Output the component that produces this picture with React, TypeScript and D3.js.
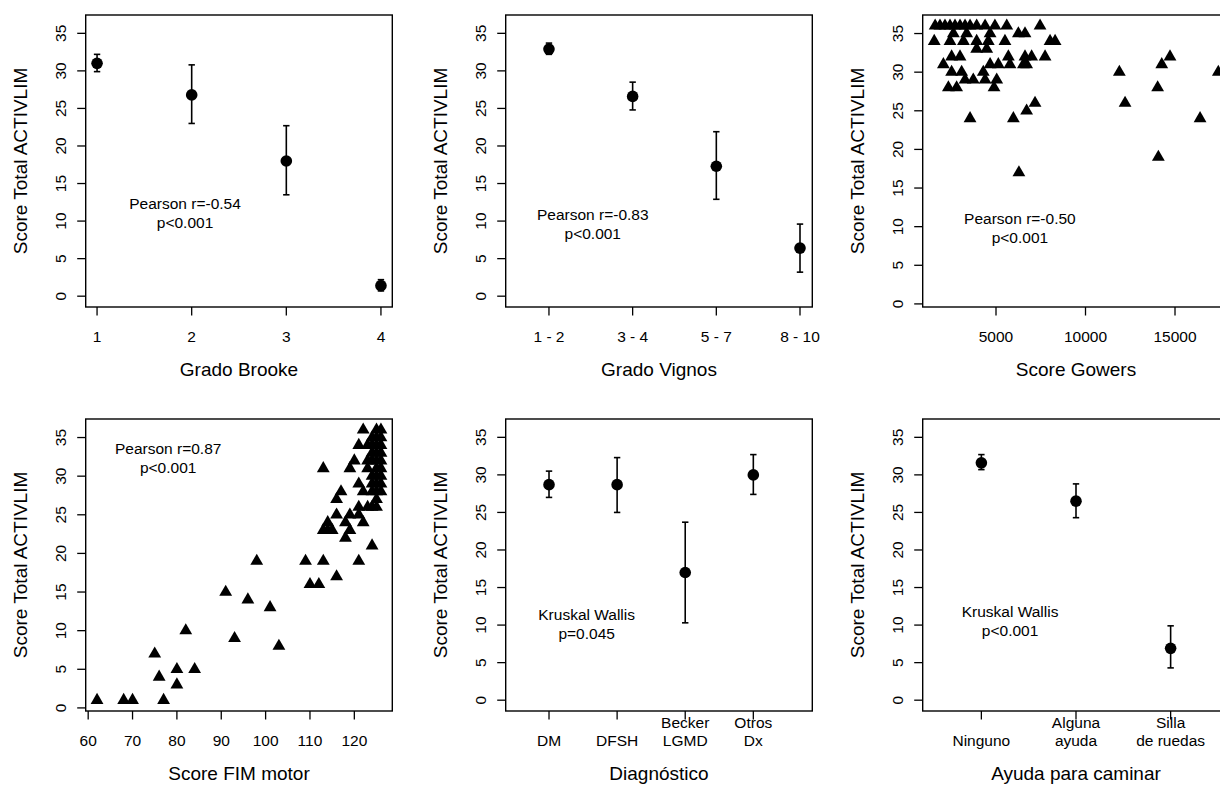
import React from "react";
import * as d3 from "d3";

// ---------- data ----------
const yTickValues = [0, 5, 10, 15, 20, 25, 30, 35];

const brookeLabels = ["1", "2", "3", "4"];
const brookeMean = [31.0, 26.8, 18.0, 1.4];
const brookeLow = [29.9, 23.0, 13.5, 0.7];
const brookeHigh = [32.2, 30.8, 22.7, 2.2];

const vignosLabels = ["1 - 2", "3 - 4", "5 - 7", "8 - 10"];
const vignosMean = [32.9, 26.6, 17.3, 6.4];
const vignosLow = [32.2, 24.8, 12.9, 3.2];
const vignosHigh = [33.7, 28.5, 21.9, 9.6];

const diagLabels = ["DM", "DFSH", "Becker\nLGMD", "Otros\nDx"];
const diagMean = [28.7, 28.7, 17.0, 30.0];
const diagLow = [27.0, 25.0, 10.3, 27.4];
const diagHigh = [30.5, 32.3, 23.7, 32.7];

const ayudaLabels = ["Ninguno", "Alguna\nayuda", "Silla\nde ruedas"];
const ayudaMean = [31.6, 26.5, 6.9];
const ayudaLow = [30.7, 24.3, 4.3];
const ayudaHigh = [32.7, 28.8, 9.9];

const gowersTicks = [5000, 10000, 15000];
const gowersX = [
  1600, 1870, 2150, 2430, 2710, 2990, 3270, 3550, 3920, 4390, 4940, 5600, 7460,
  2620, 3360, 4670, 6250, 6620,
  1550, 2430, 3180, 3920, 4570, 5500, 8020, 8300,
  3920, 4480,
  2520, 2990, 5690, 6620, 6990, 7740,
  2060, 4670, 5130, 5780, 6530, 6710,
  2520, 3080, 4290,
  3270, 3730, 4390, 5040,
  2340, 2800, 4890,
  3550, 5970, 6710, 7180, 6280,
  11890, 12210, 14030, 14260, 14720, 14070, 16400, 17420,
];
const gowersY = [
  36, 36, 36, 36, 36, 36, 36, 36, 36, 36, 36, 36, 36,
  35, 35, 35, 35, 35,
  34, 34, 34, 34, 34, 34, 34, 34,
  33, 33,
  32, 32, 32, 32, 32, 32,
  31, 31, 31, 31, 31, 31,
  30, 30, 30,
  29, 29, 29, 29,
  28, 28, 28,
  24, 24, 25, 26, 17,
  30, 26, 28, 31, 32, 19, 24, 30,
];

const fimTicks = [60, 70, 80, 90, 100, 110, 120];
const fimX = [
  62, 68, 70, 77, 75, 76, 80, 80, 84, 82,
  91, 93, 96, 98, 101, 103,
  109, 110, 112, 113, 113, 113, 115, 116, 116, 117, 116, 118, 119, 119,
  121, 122, 118, 121, 124, 122, 121, 120, 119, 121, 122, 121, 123, 124,
  125, 123, 123, 123, 124, 114, 114,
  125, 125, 125, 125, 125, 125, 125, 125, 125, 125,
  126, 126, 126, 126, 126, 126, 126, 126, 126,
  124, 124, 124, 124, 124, 124,
];
const fimY = [
  1, 1, 1, 1, 7, 4, 5, 3, 5, 10,
  15, 9, 14, 19, 13, 8,
  19, 16, 16, 19, 31, 23, 23, 17, 27, 28, 25, 22, 23, 25,
  25, 24, 24, 19, 21, 36, 34, 32, 31, 29, 28, 26, 26, 26,
  26, 32, 34, 31, 32, 24, 23,
  27, 28, 29, 30, 31, 32, 33, 34, 35, 36,
  28, 29, 30, 31, 32, 33, 34, 35, 36,
  28, 29, 30, 33, 34, 35,
];

// ---------- layout ----------
const COLS = [85.7, 505.7, 922.7];
const ROWS = [15, 419];
const PW = 306.6;
const PH = 292;
const FONT = "'Liberation Sans', Arial, Helvetica, sans-serif";
const TICK_FS = 15.5;
const TITLE_FS = 19;
const YTITLE = "Score Total ACTIVLIM";

type Cfg = {
  col: number;
  row: number;
  kind: "mean" | "scatter";
  xDomain: [number, number];
  yDomain: [number, number];
  xTicks: number[];
  xLabels: string[];
  xTitle: string;
  note: string[];
  noteAt: [number, number];
  mean?: number[];
  low?: number[];
  high?: number[];
  px?: number[];
  py?: number[];
};

const panels: Cfg[] = [
  {
    col: 0, row: 0, kind: "mean", xDomain: [0.88, 4.12], yDomain: [-1.44, 37.44],
    xTicks: [1, 2, 3, 4], xLabels: brookeLabels, xTitle: "Grado Brooke",
    note: ["Pearson r=-0.54", "p<0.001"], noteAt: [0.324, 0.68],
    mean: brookeMean, low: brookeLow, high: brookeHigh,
  },
  {
    col: 1, row: 0, kind: "mean", xDomain: [0.483, 4.147], yDomain: [-1.44, 37.44],
    xTicks: [1, 2, 3, 4], xLabels: vignosLabels, xTitle: "Grado Vignos",
    note: ["Pearson r=-0.83", "p<0.001"], noteAt: [0.284, 0.715],
    mean: vignosMean, low: vignosLow, high: vignosHigh,
  },
  {
    col: 2, row: 0, kind: "scatter", xDomain: [905, 18033], yDomain: [-0.4, 37.4],
    xTicks: gowersTicks, xLabels: gowersTicks.map(String), xTitle: "Score Gowers",
    note: ["Pearson r=-0.50", "p<0.001"], noteAt: [0.317, 0.728],
    px: gowersX, py: gowersY,
  },
  {
    col: 0, row: 1, kind: "scatter", xDomain: [59.44, 128.56], yDomain: [-0.4, 37.4],
    xTicks: fimTicks, xLabels: fimTicks.map(String), xTitle: "Score FIM motor",
    note: ["Pearson r=0.87", "p<0.001"], noteAt: [0.269, 0.135],
    px: fimX, py: fimY,
  },
  {
    col: 1, row: 1, kind: "mean", xDomain: [0.364, 4.866], yDomain: [-1.44, 37.44],
    xTicks: [1, 2, 3, 4], xLabels: diagLabels, xTitle: "Diagnóstico",
    note: ["Kruskal Wallis", "p=0.045"], noteAt: [0.264, 0.704],
    mean: diagMean, low: diagLow, high: diagHigh,
  },
  {
    col: 2, row: 1, kind: "mean", xDomain: [0.38, 3.62], yDomain: [-1.44, 37.44],
    xTicks: [1, 2, 3], xLabels: ayudaLabels, xTitle: "Ayuda para caminar",
    note: ["Kruskal Wallis", "p<0.001"], noteAt: [0.285, 0.691],
    mean: ayudaMean, low: ayudaLow, high: ayudaHigh,
  },
];

const TRI_R = 7.4;
const triPath = (() => {
  const p = d3.path();
  p.moveTo(0, -TRI_R);
  p.lineTo(TRI_R * 0.866, TRI_R * 0.5);
  p.lineTo(-TRI_R * 0.866, TRI_R * 0.5);
  p.closePath();
  return p.toString();
})();

function Panel({ cfg }: { cfg: Cfg }) {
  const left = COLS[cfg.col];
  const top = ROWS[cfg.row];
  const bottom = top + PH;
  const x = d3.scaleLinear().domain(cfg.xDomain).range([left, left + PW]);
  const y = d3.scaleLinear().domain(cfg.yDomain).range([bottom, top]);
  const cx = left + PW / 2;
  const cy = top + PH / 2;
  const noteX = left + cfg.noteAt[0] * PW;
  const noteY = top + cfg.noteAt[1] * PH;
  const lh = 19;

  return (
    <g>
      <rect x={left} y={top} width={PW} height={PH} fill="none" stroke="#000" strokeWidth={1.4} />

      {yTickValues.map((t) => (
        <g key={"y" + t}>
          <line x1={left - 8.5} x2={left} y1={y(t)} y2={y(t)} stroke="#000" strokeWidth={1.3} />
          <text
            transform={`translate(${left - 25.5},${y(t)}) rotate(-90)`}
            textAnchor="middle"
            dy="0.35em"
            fontSize={TICK_FS}
            fontFamily={FONT}
          >
            {t}
          </text>
        </g>
      ))}
      <text
        transform={`translate(${left - 65.7},${cy}) rotate(-90)`}
        textAnchor="middle"
        dy="0.35em"
        fontSize={TITLE_FS}
        fontFamily={FONT}
      >
        {YTITLE}
      </text>

      {cfg.xTicks.map((t, i) => {
        const lines = cfg.xLabels[i].split("\n");
        return (
          <g key={"x" + t}>
            <line x1={x(t)} x2={x(t)} y1={bottom} y2={bottom + 8.5} stroke="#000" strokeWidth={1.3} />
            {lines.map((ln, j) => (
              <text
                key={j}
                x={x(t)}
                y={bottom + 29.5 - (lines.length - 1 - j) * 18.3}
                textAnchor="middle"
                dy="0.35em"
                fontSize={TICK_FS}
                fontFamily={FONT}
              >
                {ln}
              </text>
            ))}
          </g>
        );
      })}
      <text x={cx} y={bottom + 62.5} textAnchor="middle" dy="0.35em" fontSize={TITLE_FS} fontFamily={FONT}>
        {cfg.xTitle}
      </text>

      {cfg.note.map((ln, j) => (
        <text
          key={"n" + j}
          x={noteX}
          y={noteY + (j - (cfg.note.length - 1) / 2) * lh}
          textAnchor="middle"
          dy="0.35em"
          fontSize={TICK_FS}
          fontFamily={FONT}
        >
          {ln}
        </text>
      ))}

      {cfg.kind === "mean" &&
        cfg.mean!.map((m, i) => {
          const xi = x(i + 1);
          return (
            <g key={"m" + i}>
              <line x1={xi} x2={xi} y1={y(cfg.low![i])} y2={y(cfg.high![i])} stroke="#000" strokeWidth={1.6} />
              <line x1={xi - 3.2} x2={xi + 3.2} y1={y(cfg.low![i])} y2={y(cfg.low![i])} stroke="#000" strokeWidth={1.6} />
              <line x1={xi - 3.2} x2={xi + 3.2} y1={y(cfg.high![i])} y2={y(cfg.high![i])} stroke="#000" strokeWidth={1.6} />
              <circle cx={xi} cy={y(m)} r={5.8} fill="#000" />
            </g>
          );
        })}
      {cfg.kind === "scatter" &&
        cfg.px!.map((v, i) => (
          <path key={"p" + i} d={triPath} transform={`translate(${x(v)},${y(cfg.py![i])})`} fill="#000" />
        ))}
    </g>
  );
}

export default function App() {
  return (
    <svg
      width={1220}
      height={785}
      style={{ position: "absolute", left: 0, top: 0, background: "#fff" }}
    >
      <rect x={0} y={0} width={1220} height={785} fill="#fff" />
      {panels.map((p, i) => (
        <Panel key={i} cfg={p} />
      ))}
    </svg>
  );
}
